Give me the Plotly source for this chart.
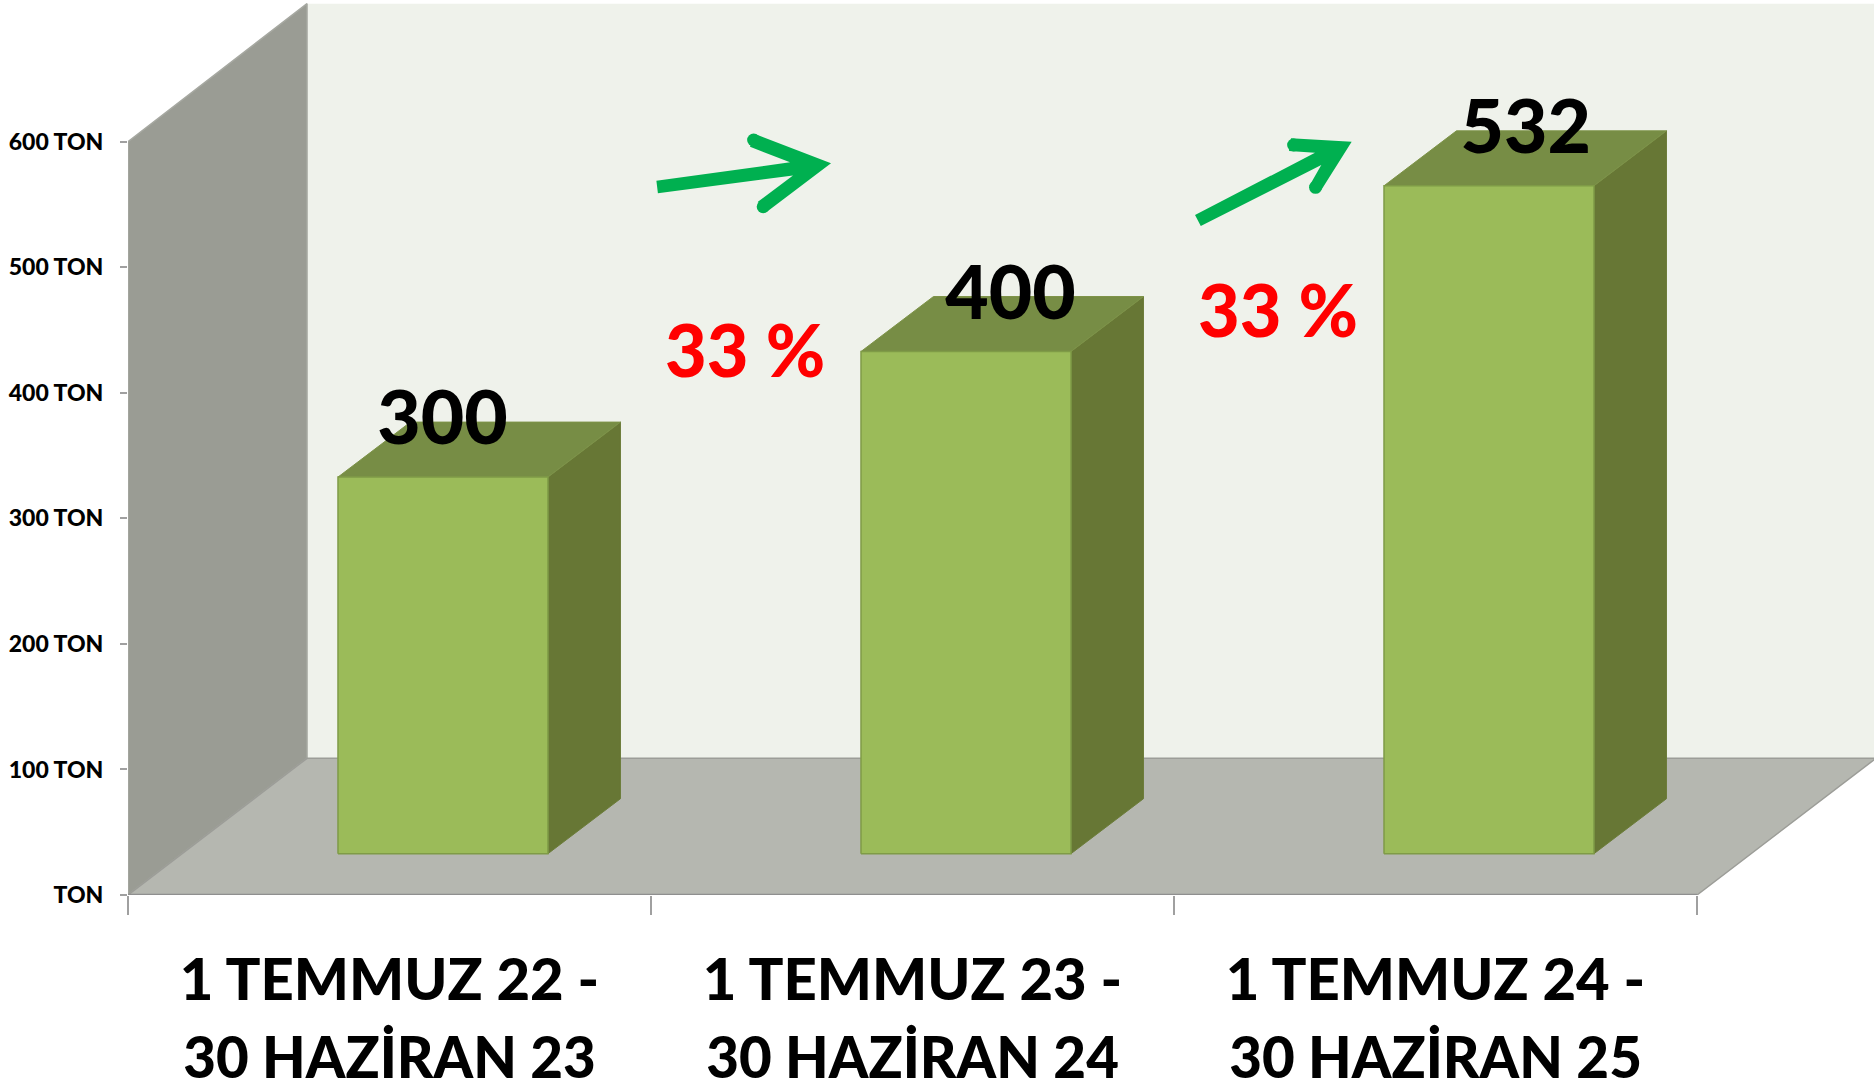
import plotly.graph_objects as go

# ---- data ----
period_line1 = ["1 TEMMUZ 22 -", "1 TEMMUZ 23 -", "1 TEMMUZ 24 -"]
period_line2 = ["30 HAZİRAN 23", "30 HAZİRAN 24", "30 HAZİRAN 25"]
tons = [300, 400, 532]
value_labels = ["300", "400", "532"]
y_tick_vals = [0, 100, 200, 300, 400, 500, 600]
y_tick_text = ["TON", "100 TON", "200 TON", "300 TON", "400 TON", "500 TON", "600 TON"]
growth_text = ["33 %", "33 %"]
growth_x = [1.180, 2.199]
growth_y = [427.2, 459.1]
arrow1_x = [1.0132, 1.2715, 1.2044, 1.2235, 1.3442, 1.1989, 1.1893, 1.2658, 1.0103]
arrow1_y = [558.9, 573.2, 552.2, 544.8, 582.8, 606.1, 596.0, 583.6, 568.9]
arrow1_cap_x = [1.1962, 1.2145]
arrow1_cap_y = [601.4, 548.2]
arrow2_x = [2.0402, 2.0512, 2.2816, 2.2587, 2.2816, 2.3397, 2.2237, 2.2199, 2.2696]
arrow2_y = [541.6, 532.9, 581.4, 564.7, 561.5, 600.0, 602.7, 592.6, 591.2]
arrow2_cap_x = [2.2287, 2.2706]
arrow2_cap_y = [597.4, 563.7]

# ---- fake-3D geometry, in axis units ----
WALL_DX, WALL_DY, WALL_TOP_DY = 0.3423, 108.9, 110
AXIS_MAX = 600
BAR_LEFT, BAR_RIGHT = 0.4015, 0.803
BAR_DX, BAR_DY = 0.1386, 43.8
BAR_BASE = 32.9
LABEL_DX = [0.2, 0.286, 0.271]
LABEL_DY = 41

FONT = "Lato, 'Open Sans', sans-serif"
fig = go.Figure()


def poly(xs, ys, fill, line=None, width=0):
    fig.add_trace(go.Scatter(
        x=xs + xs[:1], y=ys + ys[:1], mode="lines", fill="toself", fillcolor=fill,
        line=dict(color=line or fill, width=width), hoverinfo="skip", showlegend=False))


n = len(tons)
poly([WALL_DX, WALL_DX, n + WALL_DX, n + WALL_DX],
     [WALL_DY, AXIS_MAX + WALL_TOP_DY, AXIS_MAX + WALL_TOP_DY, WALL_DY], "#EFF2EB")
poly([0, 0, WALL_DX, WALL_DX], [0, AXIS_MAX, AXIS_MAX + WALL_TOP_DY, WALL_DY], "#9A9C94", "#A6A8A1", 1.5)
poly([0, n, n + WALL_DX, WALL_DX], [0, 0, WALL_DY, WALL_DY], "#B5B7B0", "#9C9D98", 1.5)
fig.add_trace(go.Scatter(x=[0, n], y=[0, 0], mode="lines", line=dict(color="#8F8F8F", width=2.5),
                         hoverinfo="skip", showlegend=False, cliponaxis=False))

for i, v in enumerate(tons):
    x0, x1 = i + BAR_LEFT, i + BAR_RIGHT
    top = BAR_BASE + v
    poly([x1, x1 + BAR_DX, x1 + BAR_DX, x1],
         [BAR_BASE, BAR_BASE + BAR_DY, top + BAR_DY, top], "#677735", "#6C7D3A", 1)
    poly([x0, x1, x1 + BAR_DX, x0 + BAR_DX], [top, top, top + BAR_DY, top + BAR_DY], "#778D45", "#7D9348", 1)
    poly([x0, x1, x1, x0], [BAR_BASE, BAR_BASE, top, top], "#9BBB59", "#7F9B47", 1.5)

fig.add_trace(go.Scatter(
    x=[i + BAR_LEFT + d for i, d in enumerate(LABEL_DX)],
    y=[BAR_BASE + v + LABEL_DY for v in tons],
    mode="text", text=value_labels, textposition="middle center",
    textfont=dict(family=FONT, size=75, color="#000000", weight=900),
    hoverinfo="skip", showlegend=False, cliponaxis=False))

fig.add_trace(go.Scatter(
    x=growth_x, y=growth_y, mode="text", text=growth_text, textposition="middle center",
    textfont=dict(family=FONT, size=72, color="#FF0000", weight=900),
    hoverinfo="skip", showlegend=False))

for xs, ys, cx, cy in [(arrow1_x, arrow1_y, arrow1_cap_x, arrow1_cap_y),
                       (arrow2_x, arrow2_y, arrow2_cap_x, arrow2_cap_y)]:
    poly(xs, ys, "#00B050")
    fig.add_trace(go.Scatter(
        x=cx, y=cy, mode="markers", marker=dict(color="#00B050", size=13, line=dict(width=0)),
        hoverinfo="skip", showlegend=False))

fig.update_layout(
    width=1874, height=1090, autosize=False,
    margin=dict(l=128, r=0, t=0, b=195.3, pad=0, autoexpand=False),
    paper_bgcolor="#FFFFFF", plot_bgcolor="#FFFFFF", showlegend=False,
    xaxis=dict(
        range=[0, 3.3384], showgrid=False, zeroline=False, showline=False, automargin=False,
        tickmode="array", tickvals=[0.5, 1.5, 2.5], ticktext=period_line1, ticks="",
        ticklabelstandoff=46,
        tickfont=dict(family=FONT, size=58, color="#000000", weight=900),
        minor=dict(tickmode="array", tickvals=[0, 1, 2, 3], ticks="outside", ticklen=19, tickwidth=1.5,
                   tickcolor="#A0A0A0", showgrid=False),
    ),
    xaxis2=dict(
        overlaying="x", anchor="y", side="bottom", automargin=False,
        range=[0, 3.3384], showgrid=False, zeroline=False, showline=False,
        tickmode="array", tickvals=[0.5, 1.5, 2.5], ticktext=period_line2, ticks="",
        ticklabelstandoff=125,
        tickfont=dict(family=FONT, size=56.5, color="#000000", weight=900),
    ),
    yaxis=dict(
        range=[0, 712.9], showgrid=False, zeroline=False, showline=False, automargin=False,
        tickmode="array", tickvals=y_tick_vals, ticktext=y_tick_text, ticks="outside", ticklen=7, tickwidth=1.5,
        tickcolor="#A0A0A0", ticklabelstandoff=12,
        tickfont=dict(family=FONT, size=23, color="#000000", weight=900),
    ),
)
# a hidden trace keeps the second category axis alive
fig.add_trace(go.Scatter(x=[0.5, 1.5, 2.5], y=tons, xaxis="x2", mode="markers",
                         marker=dict(opacity=0), hoverinfo="skip", showlegend=False))

fig.write_html("out.html", config=dict(displayModeBar=False),
               post_script="document.body.style.margin='0';document.body.style.overflow='hidden';")
